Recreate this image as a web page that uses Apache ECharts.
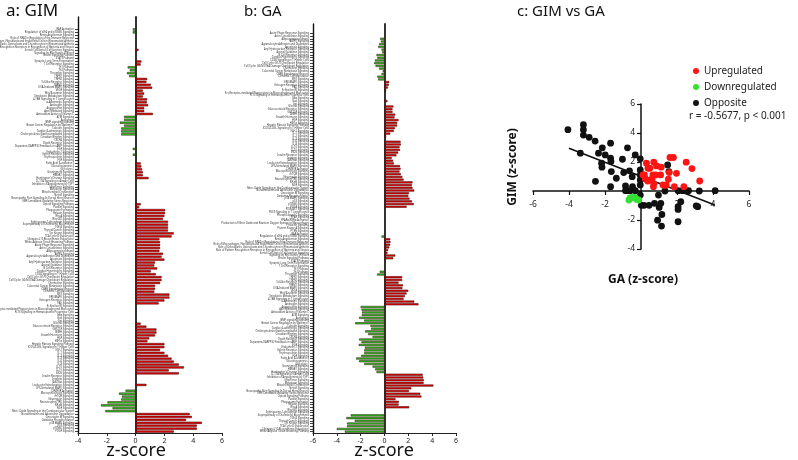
<!DOCTYPE html>
<html><head><meta charset="utf-8">
<script src="https://cdn.jsdelivr.net/npm/echarts@6/dist/echarts.min.js"></script>
<style>html,body{margin:0;padding:0;background:#fff}#c{width:798px;height:460px}</style>
</head><body><div id="c"></div>
<script>
// ---------- Panel a: GIM pathway z-scores ----------
const pathwaysA = [
"RAR Activation","Regulation of eIF4 and p70S6K Signaling","Renin-Angiotensin Signaling","Role of NFAT in Regulation of the Immune Response","Role of Macrophages, Fibroblasts and Endothelial Cells in Rheumatoid Arthritis","Role of Osteoblasts, Osteoclasts and Chondrocytes in Rheumatoid Arthritis","Role of Pattern Recognition Receptors in Recognition of Bacteria and Viruses","Sertoli Cell-Sertoli Cell Junction Signaling","Signaling by Rho Family GTPases","Sirtuin Signaling Pathway",
"STAT3 Pathway","Synaptic Long Term Potentiation","T Cell Receptor Signaling","Th1 Pathway","Th2 Pathway","Thrombin Signaling","TNFR1 Signaling","TNFR2 Signaling","Toll-like Receptor Signaling","TREM1 Signaling",
"UVA-Induced MAPK Signaling","VEGF Signaling","Wnt/β-catenin Signaling","Xenobiotic Metabolism Signaling","4-1BB Signaling in T Lymphocytes","α-Adrenergic Signaling","Androgen Signaling","Angiopoietin Signaling","April Mediated Signaling","Antioxidant Action of Vitamin C",
"ATM Signaling","Autophagy","BMP signaling pathway","Breast Cancer Regulation by Stathmin1","Calcium Signaling","Cardiac β-adrenergic Signaling","Cholecystokinin/Gastrin-mediated Signaling","Circadian Rhythm Signaling","CXCR4 Signaling","Death Receptor Signaling",
"Dopamine-DARPP32 Feedback in cAMP Signaling","EGF Signaling","Endothelin-1 Signaling","Ephrin Receptor Signaling","Erythropoietin Signaling","FGF Signaling","Fatty Acid β-oxidation I","Gluconeogenesis I","Glycolysis I","Granzyme B Signaling",
"HMGB1 Signaling","Huntington's Disease Signaling","IL-17A Signaling in Airway Cells","Inhibition of Angiogenesis by TSP1","Interferon Signaling","Melatonin Signaling","Mitochondrial Dysfunction","Netrin Signaling","Neuropathic Pain Signaling In Dorsal Horn Neurons","NRF2-mediated Oxidative Stress Response",
"Opioid Signaling Pathway","Paxillin Signaling","Phagosome Formation","Relaxin Signaling","RhoA Signaling","RhoGDI Signaling","Sphingosine-1-phosphate Signaling","Superpathway of Cholesterol Biosynthesis","TGF-β Signaling","Thyroid Cancer Signaling",
"Tec Kinase Signaling","TCA Cycle II (Eukaryotic)","Ubiquinol-10 Biosynthesis (Eukaryotic)","White Adipose Tissue Browning Pathway","Acute Phase Response Signaling","Actin Cytoskeleton Signaling","Adipogenesis pathway","AMPK Signaling","Agranulocyte Adhesion and Diapedesis","Apoptosis Signaling",
"Aryl Hydrocarbon Receptor Signaling","Axonal Guidance Signaling","B Cell Receptor Signaling","Cardiac Hypertrophy Signaling","CD28 Signaling in T Helper Cells","Cell Cycle: G1/S Checkpoint Regulation","Cell Cycle: G2/M DNA Damage Checkpoint Regulation","Chemokine Signaling","Colorectal Cancer Metastasis Signaling","CREB Signaling in Neurons",
"Dendritic Cell Maturation","EIF2 Signaling","ERK/MAPK Signaling","Estrogen Receptor Signaling","FAK Signaling","Fc Epsilon RI Signaling","Fcγ Receptor-mediated Phagocytosis in Macrophages and Monocytes","FLT3 Signaling in Hematopoietic Progenitor Cells","Gαq Signaling","Gαs Signaling",
"Gαi Signaling","Glioma Signaling","Glucocorticoid Receptor Signaling","GM-CSF Signaling","GNRH Signaling","Growth Hormone Signaling","HGF Signaling","HIF1α Signaling","Hepatic Fibrosis Signaling Pathway","ICOS-ICOSL Signaling in T Helper Cells",
"IGF-1 Signaling","IL-1 Signaling","IL-2 Signaling","IL-3 Signaling","IL-6 Signaling","IL-8 Signaling","IL-10 Signaling","IL-15 Signaling","iNOS Signaling","Insulin Receptor Signaling",
"Integrin Signaling","JAK/Stat Signaling","Leukocyte Extravasation Signaling","LPS-stimulated MAPK Signaling","LXR/RXR Activation","Macropinocytosis Signaling","mTOR Signaling","Neuregulin Signaling","Neurotrophin/TRK Signaling","NF-κB Signaling",
"NGF Signaling","Nitric Oxide Signaling in the Cardiovascular System","Noradrenaline and Adrenaline Degradation","Oncostatin M Signaling","Oxidative Phosphorylation","p38 MAPK Signaling","p53 Signaling","p70S6K Signaling","PDGF Signaling"
];
const gimValues = [
-0.2,-0.2,null,null,null,null,null,0.2,null,null,
null,0.4,0.35,-0.55,-0.4,-0.6,-0.45,0.8,0.75,1.05,
1.15,0.5,0.6,0.5,0.8,0.78,0.87,0.6,0.6,1.2,
-0.8,-0.8,-1.1,-0.8,-1.0,-1.0,-1.0,null,null,null,
null,-0.2,null,-0.2,null,null,0.35,0.4,0.45,0.5,
0.5,0.9,null,null,null,null,null,null,null,null,
0.35,0.25,2.05,2.05,2.0,1.9,2.25,2.25,2.25,2.25,
2.65,2.5,1.65,1.7,1.7,1.7,1.65,1.9,1.8,2.0,
1.35,1.3,1.5,1.05,1.4,1.8,1.8,1.7,1.35,1.35,
1.3,2.35,2.35,2.0,1.6,null,null,null,null,null,
null,0.35,0.75,1.45,1.45,1.35,0.95,0.82,2.0,2.0,
1.7,2.0,2.25,2.5,2.65,3.0,3.35,2.3,3.0,null,
null,null,0.75,null,-0.7,-1.15,-0.95,-1.0,-1.95,-2.4,
-1.6,-2.1,3.75,3.9,3.5,4.6,4.25,4.25,2.65
];
const gimTicks = [-4, 6];

// ---------- Panel b: GA pathway z-scores ----------
const pathwaysB = [
"Acute Phase Response Signaling","Actin Cytoskeleton Signaling","Adipogenesis pathway","AMPK Signaling","Agranulocyte Adhesion and Diapedesis","Apoptosis Signaling","Aryl Hydrocarbon Receptor Signaling","Axonal Guidance Signaling","B Cell Receptor Signaling","Cardiac Hypertrophy Signaling",
"CD28 Signaling in T Helper Cells","Cell Cycle: G1/S Checkpoint Regulation","Cell Cycle: G2/M DNA Damage Checkpoint Regulation","Chemokine Signaling","Colorectal Cancer Metastasis Signaling","CREB Signaling in Neurons","Dendritic Cell Maturation","EIF2 Signaling","ERK/MAPK Signaling","Estrogen Receptor Signaling",
"FAK Signaling","Fc Epsilon RI Signaling","Fcγ Receptor-mediated Phagocytosis in Macrophages and Monocytes","FLT3 Signaling in Hematopoietic Progenitor Cells","Gαq Signaling","Gαs Signaling","Gαi Signaling","Glioma Signaling","Glucocorticoid Receptor Signaling","GM-CSF Signaling",
"GNRH Signaling","Growth Hormone Signaling","HGF Signaling","HIF1α Signaling","Hepatic Fibrosis Signaling Pathway","ICOS-ICOSL Signaling in T Helper Cells","IGF-1 Signaling","IL-1 Signaling","IL-2 Signaling","IL-3 Signaling",
"IL-6 Signaling","IL-8 Signaling","IL-10 Signaling","IL-15 Signaling","iNOS Signaling","Insulin Receptor Signaling","Integrin Signaling","JAK/Stat Signaling","Leukocyte Extravasation Signaling","LPS-stimulated MAPK Signaling",
"LXR/RXR Activation","Macropinocytosis Signaling","mTOR Signaling","Neuregulin Signaling","Neurotrophin/TRK Signaling","NF-κB Signaling","NGF Signaling","Nitric Oxide Signaling in the Cardiovascular System","Noradrenaline and Adrenaline Degradation","Oncostatin M Signaling",
"Oxidative Phosphorylation","p38 MAPK Signaling","p53 Signaling","p70S6K Signaling","PDGF Signaling","PI3K/AKT Signaling","PKCθ Signaling in T Lymphocytes","Phospholipase C Signaling","PPAR Signaling","PPARα/RXRα Activation",
"Production of Nitric Oxide and Reactive Oxygen Species in Macrophages","Prolactin Signaling","Protein Kinase A Signaling","PTEN Signaling","RAR Activation","Regulation of eIF4 and p70S6K Signaling","Renin-Angiotensin Signaling","Role of NFAT in Regulation of the Immune Response","Role of Macrophages, Fibroblasts and Endothelial Cells in Rheumatoid Arthritis","Role of Osteoblasts, Osteoclasts and Chondrocytes in Rheumatoid Arthritis",
"Role of Pattern Recognition Receptors in Recognition of Bacteria and Viruses","Sertoli Cell-Sertoli Cell Junction Signaling","Signaling by Rho Family GTPases","Sirtuin Signaling Pathway","STAT3 Pathway","Synaptic Long Term Potentiation","T Cell Receptor Signaling","Th1 Pathway","Th2 Pathway","Thrombin Signaling",
"TNFR1 Signaling","TNFR2 Signaling","Toll-like Receptor Signaling","TREM1 Signaling","UVA-Induced MAPK Signaling","VEGF Signaling","Wnt/β-catenin Signaling","Xenobiotic Metabolism Signaling","4-1BB Signaling in T Lymphocytes","α-Adrenergic Signaling",
"Androgen Signaling","Angiopoietin Signaling","April Mediated Signaling","Antioxidant Action of Vitamin C","ATM Signaling","Autophagy","BMP signaling pathway","Breast Cancer Regulation by Stathmin1","Calcium Signaling","Cardiac β-adrenergic Signaling",
"Cholecystokinin/Gastrin-mediated Signaling","Circadian Rhythm Signaling","CXCR4 Signaling","Death Receptor Signaling","Dopamine-DARPP32 Feedback in cAMP Signaling","EGF Signaling","Endothelin-1 Signaling","Ephrin Receptor Signaling","Erythropoietin Signaling","FGF Signaling",
"Fatty Acid β-oxidation I","Gluconeogenesis I","Glycolysis I","Granzyme B Signaling","HMGB1 Signaling","Huntington's Disease Signaling","IL-17A Signaling in Airway Cells","Inhibition of Angiogenesis by TSP1","Interferon Signaling","Melatonin Signaling",
"Mitochondrial Dysfunction","Netrin Signaling","Neuropathic Pain Signaling In Dorsal Horn Neurons","NRF2-mediated Oxidative Stress Response","Opioid Signaling Pathway","Paxillin Signaling","Phagosome Formation","Relaxin Signaling","RhoA Signaling","RhoGDI Signaling",
"Sphingosine-1-phosphate Signaling","Superpathway of Cholesterol Biosynthesis","TGF-β Signaling","Thyroid Cancer Signaling","Tec Kinase Signaling","TCA Cycle II (Eukaryotic)","Ubiquinol-10 Biosynthesis (Eukaryotic)","White Adipose Tissue Browning Pathway"
];
const gaValues = [
null,null,
-0.36,-0.3,-0.45,-0.53,-0.25,-0.2,-0.67,-0.6,-0.8,-0.87,
-0.75,-0.45,-0.15,-0.25,-0.6,-0.53,0.4,0.36,0.28,0.14,
null,null,null,0.25,null,0.75,0.67,0.67,0.9,0.84,
1.18,1.06,1.06,0.87,0.78,0.48,0.14,null,1.35,1.37,
1.26,1.3,1.15,1.0,0.6,0.72,0.78,1.3,1.35,1.26,
1.37,1.5,1.6,2.35,2.3,2.35,2.5,2.05,2.0,2.1,
2.3,2.45,1.85,null,null,null,null,null,null,null,
null,null,null,-0.25,0.48,0.5,0.48,0.4,0.3,0.25,
0.9,0.73,null,null,null,null,-0.4,-0.62,1.48,1.48,
1.18,1.54,1.5,2.0,1.85,1.7,1.6,2.5,2.85,-2.0,
-1.93,-1.88,-1.9,-2.13,-1.7,-2.46,-1.18,-1.12,-1.62,-1.37,
-1.0,-2.13,-1.93,-2.16,-1.65,-1.7,-1.7,-1.96,-2.38,-2.13,
-1.7,-1.0,-0.78,-0.67,3.2,3.25,3.3,3.28,4.1,2.25,
2.05,3.0,3.1,0.92,1.2,1.18,2.07,null,null,-2.83,
-3.2,-2.5,-3.14,-3.14,-4.0,-3.33
];
const gaTicks = [-6, 6];

// ---------- Panel c: GIM vs GA scatter ----------
const upregulated = [
[0.19,1.11],[0.3,1.92],[0.39,1.57],[0.49,1.57],[0.11,1.11],[0.24,0.83],[0.37,0.69],[0.52,0.76],[0.66,1.11],[0.71,1.99],
[0.86,1.73],[0.81,1.11],[0.71,0.48],[0.62,0.81],[0.69,0.3],[1.12,1.64],[1.22,0.42],[1.31,0.39],[1.4,0.42],[1.52,0.81],
[1.57,1.27],[1.61,2.31],[1.8,2.31],[1.97,1.22],[1.85,0.3],[2.38,0.3],[2.51,1.99],[2.83,1.55],[3.26,0.69],[1.09,1.11]
];
const downregulated = [[-0.67,-0.62],[-0.6,-0.48],[-0.49,-0.44],[-0.34,-0.44],[-0.24,-0.58],[-0.13,-0.62]];
const opposite = [
[-4.06,4.23],[-3.2,4.57],[-3.2,4.23],[-3.2,3.86],[-2.88,3.7],[-2.55,3.44],[-2.15,2.98],[-2.36,2.61],[-1.69,3.3],[-1.99,2.49],
[-1.69,2.26],[-1.67,2.03],[-2.19,1.92],[-2.17,1.64],[-2.53,0.67],[-3.37,2.61],[-1.65,1.34],[-1.69,0.3],[-1.37,0.88],[-1.03,2.19],
[-0.96,1.27],[-0.75,2.98],[-0.64,1.39],[-0.32,2.49],[-0.49,0.99],[-0.86,0.35],[-0.86,0.02],[-0.6,0.02],[-0.47,0.3],[-0.32,0.02],
[-0.75,0.02],[-0.04,2.22],[-0.04,1.45],[-0.04,1.11],[-0.04,0.76],[-0.04,0.42],[-0.04,-0.28],[0.02,-0.99],[0.17,-0.99],[0.45,-0.99],
[0.75,-0.85],[0.97,-0.28],[1.01,-1.13],[1.1,-0.85],[1.16,-1.62],[0.92,-2.01],[1.14,-2.42],[1.48,1.8],[1.55,1.34],[1.33,0.0],
[2.06,0.02],[2.3,0.02],[2.47,0.02],[2.64,0.02],[3.24,0.0],[4.12,0.02],[2.06,-1.08],[2.06,-1.27],[2.06,-2.12],[2.21,-0.74],
[3.07,-1.02],[3.15,-1.08]
];
const fitLine = [[-4.0,2.95],[4.1,-0.97]];
const scatterX = [-6, 6];
const scatterY = [-4, 6];
const corrText = "r = -0.5677, p < 0.001";

// ---------- styles / layout ----------
const FONT = "'Noto Sans', 'Open Sans', sans-serif";
const RED = '#e60000', GREEN = '#1fd01f';
const barColor = p => (p.value > 0 ? RED : GREEN);

function frameAxes(grid, ext) {
  return {
    x: { type:'value', gridIndex:grid, min:ext[0], max:ext[1], interval:2,
         axisLine:{show:true, onZero:false, lineStyle:{color:'#222', width:1}},
         axisTick:{show:true, length:3, lineStyle:{color:'#222'}},
         axisLabel:{fontSize:7, color:'#222', margin:4, fontFamily:FONT},
         splitLine:{show:false} },
    yLeft: { type:'value', gridIndex:grid, min:0, max:1, position:'left',
         axisLine:{show:true, onZero:false, lineStyle:{color:'#111', width:1.4}},
         axisTick:{show:false}, axisLabel:{show:false}, splitLine:{show:false} },
    yZero: { type:'value', gridIndex:grid, min:0, max:1, position:'right',
         axisLine:{show:true, onZero:true, lineStyle:{color:'#333', width:2}},
         axisTick:{show:false}, axisLabel:{show:false}, splitLine:{show:false} }
  };
}
function barAxes(grid, ext, cats) {
  return {
    x: { type:'value', gridIndex:grid, min:ext[0], max:ext[1], show:false },
    y: { type:'category', gridIndex:grid, data:cats, inverse:true,
         axisLine:{show:false, onZero:false},
         axisTick:{show:true, alignWithLabel:true, length:3, lineStyle:{color:'#111', width:0.8}},
         axisLabel:{interval:0, fontSize:2.6, color:'#333', margin:4, fontFamily:FONT} }
  };
}
const fa = frameAxes(0, gimTicks), ba = barAxes(1, gimTicks, pathwaysA);
const fb = frameAxes(2, gaTicks), bb = barAxes(3, gaTicks, pathwaysB);
const G = {outerBoundsMode:'none', containLabel:false};

// scatter grid geometry; axes are shifted so they cross at (0,0)
const SC = {left:533, top:104, width:216, height:145};
const xCrossOffset = -SC.height * (0 - scatterY[0]) / (scatterY[1] - scatterY[0]);
const yCrossOffset = -SC.width * (0 - scatterX[0]) / (scatterX[1] - scatterX[0]);
const hideZero = v => (v === 0 ? '' : String(v));

const option = {
  animation:false,
  backgroundColor:'#fff',
  textStyle:{fontFamily:FONT},
  title:[
    {text:'a: GIM', left:1, top:-2, textStyle:{fontSize:17, fontWeight:'normal', color:'#111', fontFamily:FONT}},
    {text:'b: GA', left:239, top:-1, textStyle:{fontSize:15, fontWeight:'normal', color:'#111', fontFamily:FONT}},
    {text:'c: GIM vs GA', left:512, top:-1, textStyle:{fontSize:15, fontWeight:'normal', color:'#111', fontFamily:FONT}},
    {text:corrText, left:684, top:106, textStyle:{fontSize:10, fontWeight:'normal', color:'#222', fontFamily:FONT}}
  ],
  legend:{
    data:['Upregulated','Downregulated','Opposite'],
    orient:'vertical', left:688, top:61, itemWidth:6, itemHeight:6, itemGap:6,
    icon:'circle', textStyle:{fontSize:10, color:'#222', fontFamily:FONT}
  },
  grid:[
    Object.assign({left:78, top:17, width:144, height:416}, G),
    Object.assign({left:78, top:28, width:144, height:405}, G),
    Object.assign({left:313, top:24, width:143, height:409}, G),
    Object.assign({left:313, top:32, width:143, height:401}, G),
    Object.assign({}, SC, G)
  ],
  xAxis:[fa.x, ba.x, fb.x, bb.x,
    {type:'value', gridIndex:4, min:scatterX[0], max:scatterX[1], interval:2, position:'bottom', offset:xCrossOffset,
     axisLine:{onZero:false, lineStyle:{color:'#111', width:1.5}},
     axisTick:{length:4, lineStyle:{color:'#111', width:1.2}},
     axisLabel:{fontSize:8.5, color:'#222', margin:9, fontFamily:FONT, formatter:hideZero},
     splitLine:{show:false}}
  ],
  yAxis:[fa.yLeft, fa.yZero, ba.y, fb.yLeft, fb.yZero, bb.y,
    {type:'value', gridIndex:4, min:scatterY[0], max:scatterY[1], interval:2, position:'left', offset:yCrossOffset,
     axisLine:{onZero:false, lineStyle:{color:'#111', width:1.5}},
     axisTick:{length:4, lineStyle:{color:'#111', width:1.2}},
     axisLabel:{fontSize:8.5, color:'#222', margin:6, fontFamily:FONT, formatter:hideZero},
     splitLine:{show:false}}
  ],
  series:[
    {type:'bar', xAxisIndex:1, yAxisIndex:2, data:gimValues, barWidth:'76%',
     itemStyle:{color:barColor, borderColor:'#3a0000', borderWidth:0.5}},
    {type:'bar', xAxisIndex:3, yAxisIndex:5, data:gaValues, barWidth:'76%',
     itemStyle:{color:barColor, borderColor:'#3a0000', borderWidth:0.5}},
    {name:'Fit', type:'line', xAxisIndex:4, yAxisIndex:6, data:fitLine, symbol:'none',
     lineStyle:{color:'#111', width:1.6}, z:1},
    {name:'Opposite', type:'scatter', xAxisIndex:4, yAxisIndex:6, data:opposite, symbolSize:6.8,
     itemStyle:{color:'#111', opacity:1}, z:3},
    {name:'Upregulated', type:'scatter', xAxisIndex:4, yAxisIndex:6, data:upregulated, symbolSize:6.8,
     itemStyle:{color:'#ff1414', opacity:1}, z:4},
    {name:'Downregulated', type:'scatter', xAxisIndex:4, yAxisIndex:6, data:downregulated, symbolSize:6.8,
     itemStyle:{color:'#33e033', opacity:1}, z:4}
  ],
  graphic:[
    {type:'text', x:136, y:451, style:{text:'z-score', fontSize:18, fill:'#111', fontFamily:FONT, textAlign:'center', textVerticalAlign:'middle'}},
    {type:'text', x:384, y:451, style:{text:'z-score', fontSize:18, fill:'#111', fontFamily:FONT, textAlign:'center', textVerticalAlign:'middle'}},
    {type:'text', x:513, y:167, rotation:Math.PI/2, style:{text:'GIM (z-score)', fontSize:12, fontWeight:'bold', fill:'#111', fontFamily:FONT, textAlign:'center', textVerticalAlign:'middle'}},
    {type:'text', x:643, y:280, style:{text:'GA (z-score)', fontSize:12, fontWeight:'bold', fill:'#111', fontFamily:FONT, textAlign:'center', textVerticalAlign:'middle'}}
  ]
};
const chart = echarts.init(document.getElementById('c'), null, {renderer:'canvas'});
chart.setOption(option);
</script></body></html>
